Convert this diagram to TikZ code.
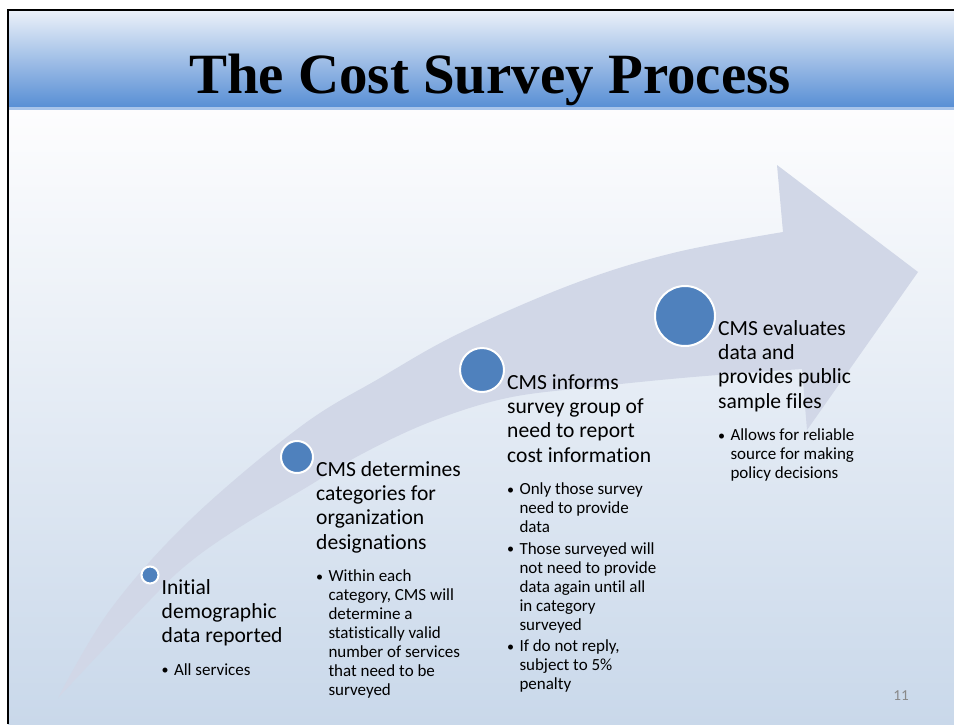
\documentclass[tikz,border=0pt]{standalone}
\usepackage{fontspec}
\setmainfont{Carlito}[Ligatures=NoCommon]
\newfontfamily\titlefont{Liberation Serif}
\usepackage{tikz}
\usetikzlibrary{positioning}
\definecolor{hdtop}{RGB}{236,241,249}
\definecolor{hdbot}{RGB}{88,143,213}
\definecolor{hdline}{RGB}{168,196,234}
\definecolor{bgtop}{RGB}{253,253,254}
\definecolor{bgbot}{RGB}{201,216,234}
\definecolor{band}{RGB}{209,215,231}
\definecolor{dotblue}{RGB}{79,129,189}
\definecolor{pagegray}{RGB}{137,137,137}

\newcommand{\headlines}[1]{\begin{tabular}[t]{@{}l@{}}#1\end{tabular}}
\newcommand{\bulletlist}[1]{\begin{tabular}[t]{@{}l@{\hspace{4.5pt}}l@{}}#1\end{tabular}}
\newcommand{\bulletmark}{\raisebox{0.8pt}{\fontsize{12}{12}\selectfont\textbullet}}

\begin{document}
\begin{tikzpicture}[x=0.03cm, y=-0.03cm,
  dot/.style={circle, fill=dotblue, draw=white, line width=1.7pt, inner sep=0},
  head/.style={anchor=base west, inner sep=0, font=\fontsize{18.4}{20.9}\selectfont},
  bul/.style={inner sep=0, font=\fontsize{14.5}{16.1}\selectfont}]
\useasboundingbox (0,0) rectangle (954,724);
\fill[white] (0,0) rectangle (954,724);
% slide body and title bar
\shade[top color=bgtop, bottom color=bgbot] (8,110) rectangle (954,724);
\shade[top color=hdtop, bottom color=hdbot] (8,10) rectangle (954,107);
\fill[hdline] (8,107) rectangle (954,110);
\draw[line width=2.3pt] (8,724) -- (8,10) -- (954,10);
\node[font=\titlefont\bfseries\fontsize{48.6}{58}\selectfont, anchor=base] (title) at (490,93) {The Cost Survey Process};
% the curved arrow
\fill[band] plot[smooth, tension=0.6] coordinates {(58,698) (110,610) (190,520) (300,427) (380,378) (460,333) (573,284) (673,253) (783,232)}
  -- (777,165) -- (918,272) -- (807,430) -- (802,369)
  -- plot[smooth, tension=0.6] coordinates {(802,369) (693,377) (593,387) (507,398) (430,422) (360,455) (307,487) (240,527) (190,562) (150,600) (58,698)} -- cycle;
% steps along the arrow
\foreach \n/\x/\y/\d in {1/150/575/0.51, 2/297/457/0.96, 3/482/370/1.32, 4/685/316/1.80}
  \node[dot, minimum size=\d cm] (c\n) at (\x,\y) {};
\foreach \n/\txt in {1/{Initial\\demographic\\data reported},
  2/{CMS determines\\categories for\\organization\\designations},
  3/{CMS informs\\survey group of\\need to report\\cost information},
  4/{CMS evaluates\\data and\\provides public\\sample files}}
  \node[head] (h\n) at ([shift={(2,19)}]c\n.east) {\headlines{\txt}};
\node[bul, below right=9.8pt and 0pt of h1.south west] (p1) {\bulletlist{\bulletmark & All services}};
\node[bul, below right=9.8pt and 0pt of h2.south west] (p2) {\bulletlist{\bulletmark & Within each\\
  & category, CMS will\\ & determine a\\ & statistically valid\\ & number of services\\ & that need to be\\ & surveyed}};
\node[bul, below right=9.8pt and 0pt of h3.south west] (p3) {\bulletlist{\bulletmark & Only those survey\\
  & need to provide\\ & data\\[2.6pt]
  \bulletmark & Those surveyed will\\ & not need to provide\\ & data again until all\\ & in category\\ & surveyed\\[2.6pt]
  \bulletmark & If do not reply,\\ & subject to 5\%\\ & penalty}};
\node[bul, below right=9.8pt and 0pt of h4.south west] (p4) {\bulletlist{\bulletmark & Allows for reliable\\
  & source for making\\ & policy decisions}};
\node[font=\fontsize{13}{15}\selectfont, text=pagegray] (page) at (901,696) {11};
\end{tikzpicture}
\end{document}
